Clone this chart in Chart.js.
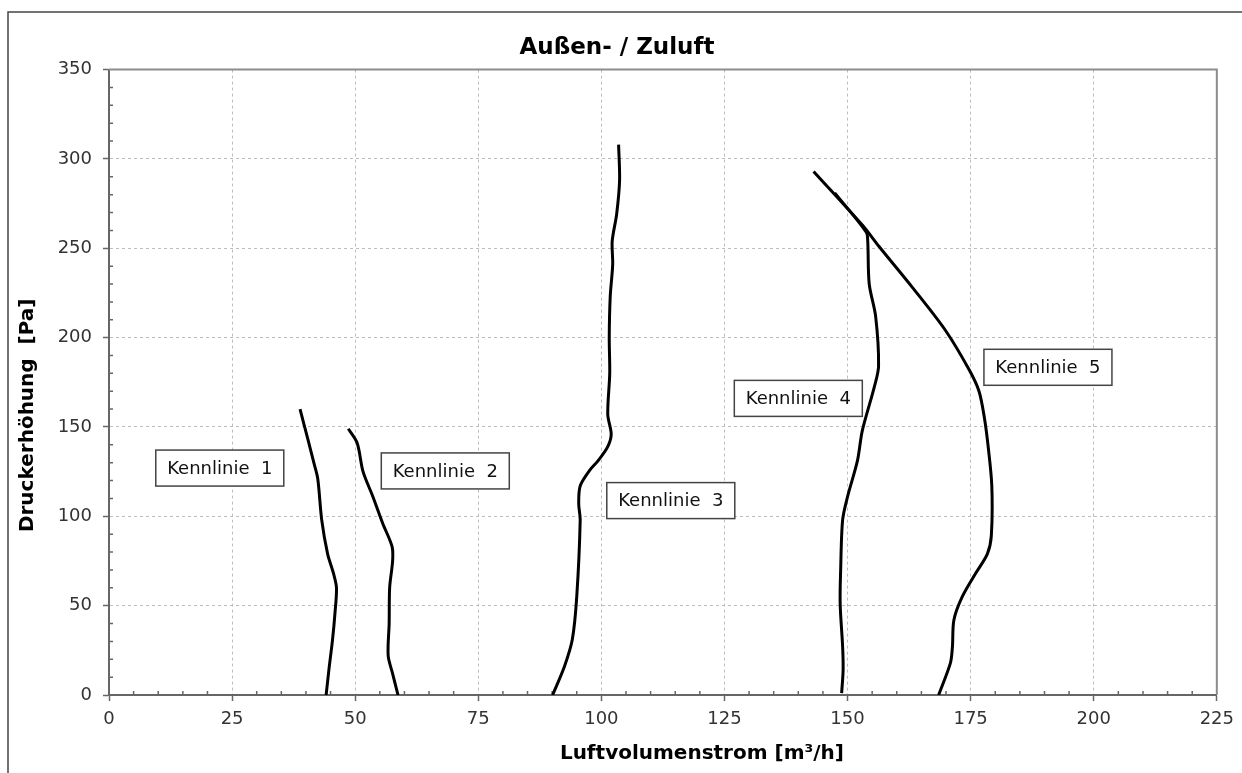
<!DOCTYPE html>
<html>
<head>
<meta charset="utf-8">
<script src="https://cdn.jsdelivr.net/npm/chart.js@4.4.1/dist/chart.umd.min.js"></script>
<style>
html, body { margin: 0; padding: 0; background: #fff; }
#wrap { width: 1242px; height: 773px; }
</style>
</head>
<body>
<div id="wrap"><canvas id="chart"></canvas></div>
<script>
// Kennlinien: [Luftvolumenstrom m3/h, Druckerhöhung Pa]
const kennlinie1 = [[44.1, 0], [44.7, 15], [45.4, 31], [45.9, 46], [46.2, 60], [45.6, 68], [44.4, 79],
    [43.2, 98], [42.4, 121], [41.6, 130], [40.4, 143], [38.8, 160]];
const kennlinie2 = [[58.7, 0], [57.6, 12], [56.7, 22], [56.9, 40], [57.0, 60], [57.6, 75], [57.5, 83],
    [55.6, 96], [53.6, 111], [51.6, 125], [50.4, 141], [48.6, 149]];
const kennlinie3 = [[90.1, 0], [92.5, 16], [94.1, 31], [95.0, 55], [95.7, 98], [95.4, 107], [95.7, 117],
    [97.7, 126], [99.3, 131], [101.3, 139], [102.0, 146], [101.3, 157], [101.7, 180], [101.6, 200],
    [101.8, 223], [102.3, 241], [102.2, 254], [103.1, 269], [103.7, 288], [103.5, 308]];
const kennlinie4 = [[148.8, 1], [149.1, 14], [149.0, 27], [148.5, 51], [148.6, 70], [149.0, 98],
    [150.0, 111], [152.0, 131], [153.0, 148], [155.4, 172], [156.3, 184], [155.7, 212], [154.4, 230],
    [154.1, 254], [153.8, 259], [147.4, 281]];
const kennlinie5 = [[168.5, 0], [170.9, 18], [171.3, 27], [171.6, 42], [173.3, 55], [176.0, 68],
    [178.4, 79], [179.2, 89], [179.3, 117], [178.6, 138], [177.8, 155], [176.7, 170], [174.7, 182],
    [169.9, 204], [163.2, 228], [156.4, 251], [153.0, 263], [143.1, 293]];

const curves = [kennlinie1, kennlinie2, kennlinie3, kennlinie4, kennlinie5];
const labelTexts = ['Kennlinie  1', 'Kennlinie  2', 'Kennlinie  3', 'Kennlinie  4', 'Kennlinie  5'];
const labelPos = [[22.5, 127], [68.3, 125.4], [114.1, 108.8], [140, 166], [190.7, 183.4]];

const xMax = 225, xStep = 25, xMinor = 5;
const yMax = 350, yStep = 50, yMinor = 10;

const FONT = "'DejaVu Sans', sans-serif";

// axis titles in the original sit off-centre; nudge them
function shiftTitle(scale, dx, dy) {
    if (scale._titleShifted) return;
    const orig = scale.drawTitle.bind(scale);
    scale.drawTitle = function () {
        this.ctx.save();
        this.ctx.translate(dx, dy);
        orig();
        this.ctx.restore();
    };
    scale._titleShifted = true;
}

// frame, minor ticks and the text boxes
const decorPlugin = {
    id: 'decor',
    afterLayout(chart) {
        shiftTitle(chart.scales.x, 39, 0);
        shiftTitle(chart.scales.y, 0, 33);
    },
    beforeDraw(chart) {
        const ctx = chart.ctx;
        ctx.save();
        ctx.strokeStyle = '#444';
        ctx.lineWidth = 1.5;
        ctx.beginPath();
        ctx.moveTo(8, chart.height + 5);
        ctx.lineTo(8, 12);
        ctx.lineTo(chart.width + 5, 12);
        ctx.stroke();
        ctx.restore();
    },
    beforeDatasetsDraw(chart) {
        const {ctx, chartArea: a, scales: {x, y}} = chart;
        ctx.save();
        // top and right of the plot frame
        ctx.strokeStyle = '#8c8c8c';
        ctx.lineWidth = 2;
        ctx.beginPath();
        ctx.moveTo(a.left, a.top);
        ctx.lineTo(a.right, a.top);
        ctx.lineTo(a.right, a.bottom);
        ctx.stroke();
        // minor ticks pointing inside
        ctx.strokeStyle = '#666';
        ctx.lineWidth = 1.5;
        ctx.beginPath();
        for (let v = xMinor; v < xMax; v += xMinor) {
            if (v % xStep === 0) continue;
            const px = x.getPixelForValue(v);
            ctx.moveTo(px, a.bottom);
            ctx.lineTo(px, a.bottom - 4);
        }
        for (let v = yMinor; v < yMax; v += yMinor) {
            if (v % yStep === 0) continue;
            const py = y.getPixelForValue(v);
            ctx.moveTo(a.left, py);
            ctx.lineTo(a.left + 4, py);
        }
        ctx.stroke();
        ctx.restore();
    },
    afterDatasetsDraw(chart) {
        const {ctx, scales: {x, y}} = chart;
        ctx.save();
        ctx.font = '18px ' + FONT;
        ctx.textAlign = 'center';
        ctx.textBaseline = 'middle';
        labelTexts.forEach((text, i) => {
            const px = x.getPixelForValue(labelPos[i][0]);
            const py = y.getPixelForValue(labelPos[i][1]);
            const w = 128, h = 36;
            ctx.fillStyle = '#fff';
            ctx.fillRect(px - w / 2, py - h / 2, w, h);
            ctx.strokeStyle = '#444';
            ctx.lineWidth = 1.5;
            ctx.strokeRect(px - w / 2, py - h / 2, w, h);
            ctx.fillStyle = '#111';
            ctx.fillText(text, px, py + 1);
        });
        ctx.restore();
    }
};

const ctx = document.getElementById('chart').getContext('2d');
const chart = new Chart(ctx, {
    type: 'scatter',
    data: {
        datasets: curves.map((pts, i) => ({
            label: labelTexts[i],
            data: pts.map(p => ({x: p[0], y: p[1]})),
            showLine: true,
            borderColor: '#000',
            borderWidth: 3,
            pointRadius: 0,
            tension: 0.3
        }))
    },
    options: {
        responsive: true,
        maintainAspectRatio: false,
        animation: false,
        layout: {
            padding: {left: 16, right: 24, top: 0, bottom: 0}
        },
        scales: {
            x: {
                type: 'linear',
                min: 0,
                max: xMax,
                afterFit: scale => { scale.height = 78; },
                ticks: {
                    stepSize: xStep,
                    color: '#333',
                    padding: 8,
                    font: {family: FONT, size: 18}
                },
                grid: {
                    color: '#bdbdbd',
                    lineWidth: 1,
                    tickColor: '#666',
                    tickWidth: 1.5,
                    tickLength: 6,
                    tickBorderDash: []
                },
                border: {color: '#666', width: 2, dash: [3, 3]},
                title: {
                    display: true,
                    text: 'Luftvolumenstrom [m³/h]',
                    color: '#000',
                    font: {family: FONT, size: 20, weight: 'bold'},
                    padding: {top: 0, bottom: 7}
                }
            },
            y: {
                type: 'linear',
                min: 0,
                max: yMax,
                afterFit: scale => { scale.width = 93; },
                ticks: {
                    stepSize: yStep,
                    color: '#333',
                    padding: 11,
                    font: {family: FONT, size: 18}
                },
                grid: {
                    color: '#bdbdbd',
                    lineWidth: 1,
                    tickColor: '#666',
                    tickWidth: 1.5,
                    tickLength: 6,
                    tickBorderDash: []
                },
                border: {color: '#666', width: 2, dash: [3, 3]},
                title: {
                    display: true,
                    text: 'Druckerhöhung  [Pa]',
                    color: '#000',
                    font: {family: FONT, size: 20, weight: 'bold'},
                    padding: {top: 0, bottom: 0}
                }
            }
        },
        plugins: {
            legend: {display: false},
            tooltip: {enabled: false},
            title: {
                display: true,
                text: 'Außen- / Zuluft',
                color: '#000',
                font: {family: FONT, size: 23, weight: 'bold'},
                padding: {top: 34, bottom: 8}
            }
        }
    },
    plugins: [decorPlugin]
});
</script>
</body>
</html>
